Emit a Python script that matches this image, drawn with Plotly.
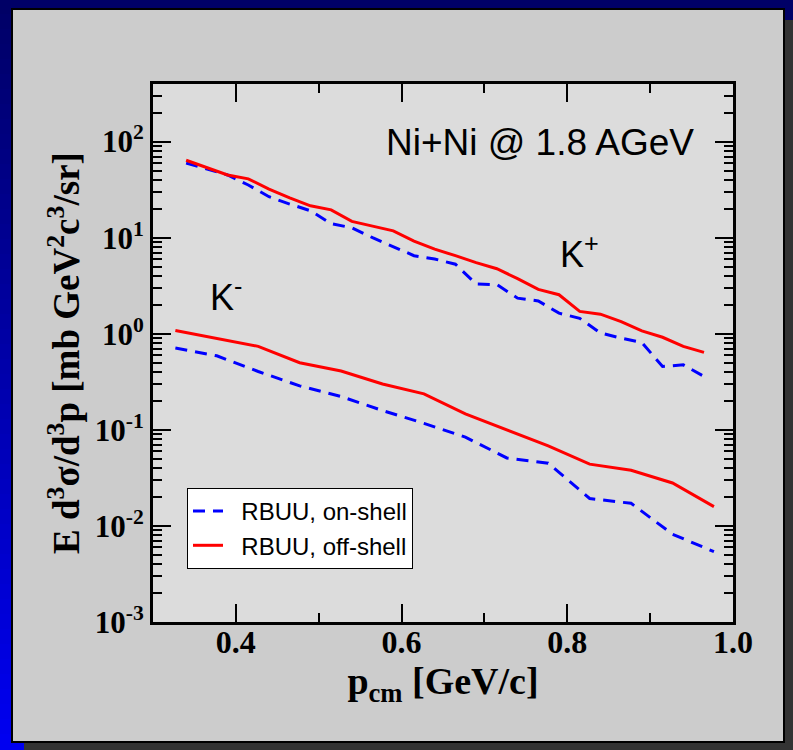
import plotly.graph_objects as go

# ---------------- data ----------------
kp_x = [0.34, 0.365, 0.39, 0.415, 0.44, 0.465, 0.49, 0.515, 0.54, 0.565, 0.59, 0.615, 0.64,
        0.665, 0.69, 0.715, 0.74, 0.765, 0.79, 0.815, 0.84, 0.865, 0.89, 0.915, 0.94, 0.965]
kp_on = [60, 52, 45, 35.4, 26.7, 22.4, 19.1, 14.0, 12.7, 10.0, 8.1, 6.5, 6.0,
         5.3, 3.3, 3.25, 2.35, 2.2, 1.64, 1.45, 1.02, 0.90, 0.81, 0.457, 0.475, 0.36]
kp_off = [64, 54, 45, 41, 32, 26, 21.5, 19.5, 14.8, 13.2, 11.8, 9.2, 7.6,
          6.5, 5.5, 4.75, 3.75, 2.9, 2.55, 1.71, 1.60, 1.34, 1.07, 0.92, 0.74, 0.64]

km_x = [0.327, 0.377, 0.427, 0.477, 0.527, 0.577, 0.627, 0.677, 0.727, 0.777, 0.827, 0.877, 0.927, 0.977]
km_on = [0.71, 0.59, 0.405, 0.287, 0.222, 0.159, 0.117, 0.084, 0.051, 0.045, 0.0193, 0.0172, 0.0082, 0.0054]
km_off = [1.08, 0.89, 0.74, 0.50, 0.41, 0.30, 0.237, 0.147, 0.100, 0.068, 0.044, 0.038, 0.028, 0.0159]

series_names = ["RBUU, on-shell", "RBUU, off-shell"]

x_ticks = [0.4, 0.6, 0.8, 1.0]
x_ticktext = ["0.4", "0.6", "0.8", "1.0"]
y_ticks = [1e-3, 1e-2, 1e-1, 1e0, 1e1, 1e2]
y_ticktext = ["10<sup>-3</sup>", "10<sup>-2</sup>", "10<sup>-1</sup>", "10<sup>0</sup>",
              "10<sup>1</sup>", "10<sup>2</sup>"]

# ---------------- layout geometry ----------------
W, H = 793, 750
L, R, T, B = 153, 733, 84, 622


def pxx(x):
    return (x - L) / (R - L)


def pxy(y):
    return (B - y) / (B - T)


SERIF = "Liberation Serif"
SANS = "Liberation Sans"
PAD = "\u00a0\u00a0"

fig = go.Figure()

fig.add_trace(go.Scatter(x=kp_x, y=kp_on, mode="lines", name=PAD + series_names[0],
                         line=dict(color="#0000ff", width=3, dash="12px,8px"), legendgroup="on"))
fig.add_trace(go.Scatter(x=kp_x, y=kp_off, mode="lines", name=PAD + series_names[1],
                         line=dict(color="#ff0000", width=3), legendgroup="off"))
fig.add_trace(go.Scatter(x=km_x, y=km_on, mode="lines", showlegend=False,
                         line=dict(color="#0000ff", width=3, dash="12px,8px"), legendgroup="on"))
fig.add_trace(go.Scatter(x=km_x, y=km_off, mode="lines", showlegend=False,
                         line=dict(color="#ff0000", width=3), legendgroup="off"))

shapes = []
# background: navy, with a vertical navy->blue gradient along the left edge
shapes.append(dict(type="rect", xref="paper", yref="paper", layer="below",
                   x0=pxx(-2), x1=pxx(W + 2), y0=pxy(-2), y1=pxy(H + 2),
                   fillcolor="#000066", line=dict(width=0)))
N = 50
c0 = (0, 0, 0x66)
c1 = (0, 0, 0xf0)
for i in range(N):
    f = i / (N - 1)
    col = "rgb(%d,%d,%d)" % tuple(round(a + (b - a) * f) for a, b in zip(c0, c1))
    y0 = i * H / N
    y1 = (i + 1) * H / N + 1
    shapes.append(dict(type="rect", xref="paper", yref="paper", layer="below",
                       x0=pxx(-2), x1=pxx(30), y0=pxy(y0 - 1), y1=pxy(y1),
                       fillcolor=col, line=dict(width=0)))
# shadow
shapes.append(dict(type="rect", xref="paper", yref="paper", layer="below",
                   x0=pxx(24), x1=pxx(W + 5), y0=pxy(20), y1=pxy(H + 5),
                   fillcolor="#333333", line=dict(width=0)))
# panel
shapes.append(dict(type="rect", xref="paper", yref="paper", layer="below",
                   x0=pxx(12), x1=pxx(784), y0=pxy(9), y1=pxy(742),
                   fillcolor="#cccccc", line=dict(color="black", width=2)))
# plot area
shapes.append(dict(type="rect", xref="paper", yref="paper", layer="below",
                   x0=0, x1=1, y0=0, y1=1, fillcolor="#dcdcdc", line=dict(width=0)))

annotations = [
    dict(text="Ni+Ni @ 1.8 AGeV", xref="paper", yref="paper", x=pxx(384), y=pxy(142),
         xanchor="left", yanchor="middle", showarrow=False,
         font=dict(family=SANS, size=37, color="black")),
    dict(text="K<sup>+</sup>", xref="paper", yref="paper", x=pxx(558), y=pxy(252),
         xanchor="left", yanchor="middle", showarrow=False,
         font=dict(family=SANS, size=36, color="black")),
    dict(text="K<sup>-</sup>", xref="paper", yref="paper", x=pxx(208), y=pxy(295),
         xanchor="left", yanchor="middle", showarrow=False,
         font=dict(family=SANS, size=36, color="black")),
]

fig.update_layout(
    width=W, height=H,
    margin=dict(l=L, r=W - R, t=T, b=H - B, pad=0),
    paper_bgcolor="#000066",
    plot_bgcolor="rgba(0,0,0,0)",
    shapes=shapes,
    annotations=annotations,
    showlegend=True,
    legend=dict(x=pxx(187), y=pxy(488), xanchor="left", yanchor="top",
                bgcolor="white", bordercolor="black", borderwidth=1,
                font=dict(family=SANS, size=24, color="black"),
                tracegroupgap=0, itemwidth=30),
)

fig.update_xaxes(
    range=[0.3, 1.0], tickvals=x_ticks, ticktext=x_ticktext,
    ticks="inside", ticklen=18, tickwidth=2, tickcolor="black",
    showline=True, linecolor="black", linewidth=3, mirror="allticks",
    showgrid=False, zeroline=False, ticklabelstandoff=-10,
    tickfont=dict(family=SERIF, size=32, color="black", weight="bold"),
    minor=dict(tickvals=[0.5, 0.7, 0.9], ticks="inside", ticklen=9, tickwidth=2, tickcolor="black"),
    title=dict(text="p<sub>cm</sub> [GeV/c]", standoff=8,
               font=dict(family=SERIF, size=38, color="black", weight="bold")),
)

fig.update_yaxes(
    type="log", range=[-3, 2.6], tickvals=y_ticks, ticktext=y_ticktext,
    ticks="inside", ticklen=18, tickwidth=2, tickcolor="black",
    showline=True, linecolor="black", linewidth=3, mirror="allticks",
    showgrid=False, zeroline=False,
    tickfont=dict(family=SERIF, size=31, color="black", weight="bold"),
    minor=dict(dtick="D1", ticks="inside", ticklen=9, tickwidth=2, tickcolor="black"),
    title=dict(text="E d<sup>3</sup>σ/d<sup>3</sup>p [mb GeV<sup>2</sup>c<sup>3</sup>/sr]", standoff=4,
               font=dict(family=SERIF, size=37, color="black", weight="bold")),
)

fig.write_html("out.html")
